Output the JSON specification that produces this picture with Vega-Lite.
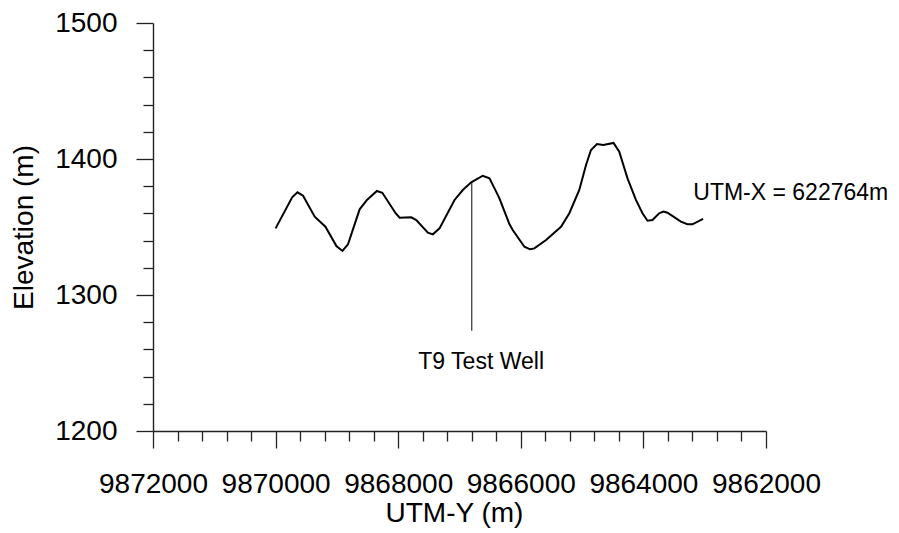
{
  "$schema": "https://vega.github.io/schema/vega-lite/v6.json",
  "width": 613,
  "height": 408,
  "autosize": "none",
  "padding": {"left": 153, "top": 23, "right": 133, "bottom": 102},
  "background": "white",
  "config": {
    "view": {"stroke": null},
    "font": "Liberation Sans",
    "axis": {"grid": false, "domainColor": "#222", "tickColor": "#222", "domainWidth": 1.4, "tickWidth": 1.3, "labelColor": "#000", "titleColor": "#000"}
  },
  "datasets": {
    "profile": [
      {"utmy": 9870000, "elev": 1349},
      {"utmy": 9869730, "elev": 1371.8},
      {"utmy": 9869643, "elev": 1375.5},
      {"utmy": 9869552, "elev": 1373},
      {"utmy": 9869362, "elev": 1357.6},
      {"utmy": 9869187, "elev": 1350.2},
      {"utmy": 9869008, "elev": 1336},
      {"utmy": 9868910, "elev": 1332.4},
      {"utmy": 9868819, "elev": 1337.3},
      {"utmy": 9868629, "elev": 1363},
      {"utmy": 9868510, "elev": 1369.9},
      {"utmy": 9868347, "elev": 1376.5},
      {"utmy": 9868259, "elev": 1375.2},
      {"utmy": 9868042, "elev": 1360.1},
      {"utmy": 9867977, "elev": 1356.8},
      {"utmy": 9867787, "elev": 1357.1},
      {"utmy": 9867705, "elev": 1355.1},
      {"utmy": 9867516, "elev": 1345.8},
      {"utmy": 9867435, "elev": 1344.6},
      {"utmy": 9867326, "elev": 1349},
      {"utmy": 9867081, "elev": 1369.9},
      {"utmy": 9866946, "elev": 1377.2},
      {"utmy": 9866809, "elev": 1382.9},
      {"utmy": 9866621, "elev": 1387.7},
      {"utmy": 9866511, "elev": 1385.8},
      {"utmy": 9866402, "elev": 1376},
      {"utmy": 9866349, "elev": 1371},
      {"utmy": 9866186, "elev": 1352.2},
      {"utmy": 9866132, "elev": 1347.8},
      {"utmy": 9865941, "elev": 1335.5},
      {"utmy": 9865849, "elev": 1333.6},
      {"utmy": 9865779, "elev": 1334.3},
      {"utmy": 9865588, "elev": 1340.4},
      {"utmy": 9865344, "elev": 1350.2},
      {"utmy": 9865208, "elev": 1360.1},
      {"utmy": 9865046, "elev": 1377.2},
      {"utmy": 9864936, "elev": 1395.6},
      {"utmy": 9864855, "elev": 1406.6},
      {"utmy": 9864757, "elev": 1411},
      {"utmy": 9864655, "elev": 1410.3},
      {"utmy": 9864487, "elev": 1411.8},
      {"utmy": 9864394, "elev": 1405.4},
      {"utmy": 9864259, "elev": 1385.8},
      {"utmy": 9864122, "elev": 1369.9},
      {"utmy": 9864015, "elev": 1360.1},
      {"utmy": 9863933, "elev": 1354.6},
      {"utmy": 9863852, "elev": 1355.1},
      {"utmy": 9863743, "elev": 1360.1},
      {"utmy": 9863673, "elev": 1361.3},
      {"utmy": 9863607, "elev": 1360.5},
      {"utmy": 9863389, "elev": 1353.9},
      {"utmy": 9863282, "elev": 1352},
      {"utmy": 9863200, "elev": 1352},
      {"utmy": 9863026, "elev": 1355.9}
    ],
    "well": [
      {"utmy": 9866800, "bottom": 1273.7, "top": 1383}
    ],
    "labels": [
      {"utmy": 9867672, "elev": 1245.4, "label": "T9 Test Well"},
      {"utmy": 9863186, "elev": 1369.9, "label": "UTM-X = 622764m"}
    ]
  },
  "resolve": {"axis": {"x": "independent", "y": "independent"}},
  "layer": [
    {
      "data": {"name": "profile"},
      "mark": {"type": "line", "color": "#000", "strokeWidth": 2},
      "encoding": {
        "x": {
          "field": "utmy", "type": "quantitative",
          "scale": {"domain": [9862000, 9872000], "reverse": true, "nice": false, "zero": false},
          "axis": {
            "orient": "bottom",
            "values": [9872000, 9870000, 9868000, 9866000, 9864000, 9862000],
            "format": "d",
            "tickSize": 17,
            "labelFontSize": 28,
            "labelPadding": 44,
            "labelBaseline": "alphabetic",
            "labelFlush": false,
            "labelOverlap": false,
            "labelBound": false,
            "title": "UTM-Y (m)",
            "titleFontSize": 28,
            "titleFontWeight": "normal",
            "titleBaseline": "alphabetic",
            "titleAlign": "center",
            "titleX": 301,
            "titleY": 90
          }
        },
        "y": {
          "field": "elev", "type": "quantitative",
          "scale": {"domain": [1200, 1500], "nice": false, "zero": false},
          "axis": {
            "orient": "left",
            "values": [1200, 1300, 1400, 1500],
            "format": "d",
            "tickSize": 17,
            "labelFontSize": 28,
            "labelPadding": 19,
            "labelFlush": false,
            "labelOverlap": false,
            "labelBound": false,
            "title": "Elevation (m)",
            "titleFontSize": 28,
            "titleFontWeight": "normal",
            "titleBaseline": "alphabetic",
            "titleAlign": "center",
            "titleAngle": -90,
            "titleX": -121,
            "titleY": 204
          }
        }
      }
    },
    {
      "data": {"name": "well"},
      "mark": {"type": "rule", "color": "#222", "strokeWidth": 1.1},
      "encoding": {
        "x": {
          "field": "utmy", "type": "quantitative",
          "scale": {"domain": [9862000, 9872000], "reverse": true, "nice": false, "zero": false},
          "axis": {
            "orient": "bottom",
            "values": [9871600, 9871200, 9870800, 9870400, 9869600, 9869200, 9868800, 9868400, 9867600, 9867200, 9866800, 9866400, 9865600, 9865200, 9864800, 9864400, 9863600, 9863200, 9862800, 9862400],
            "tickSize": 10,
            "labels": false,
            "domain": false,
            "title": null
          }
        },
        "y": {
          "field": "bottom", "type": "quantitative",
          "scale": {"domain": [1200, 1500], "nice": false, "zero": false},
          "axis": {
            "orient": "left",
            "values": [1220, 1240, 1260, 1280, 1320, 1340, 1360, 1380, 1420, 1440, 1460, 1480],
            "tickSize": 10,
            "labels": false,
            "domain": false,
            "title": null
          }
        },
        "y2": {"field": "top"}
      }
    },
    {
      "data": {"name": "labels"},
      "mark": {"type": "text", "align": "left", "baseline": "alphabetic", "fontSize": 23, "color": "#000", "font": "Liberation Sans"},
      "encoding": {
        "x": {"field": "utmy", "type": "quantitative", "scale": {"domain": [9862000, 9872000], "reverse": true, "nice": false, "zero": false}, "axis": null},
        "y": {"field": "elev", "type": "quantitative", "scale": {"domain": [1200, 1500], "nice": false, "zero": false}, "axis": null},
        "text": {"field": "label"}
      }
    }
  ]
}
